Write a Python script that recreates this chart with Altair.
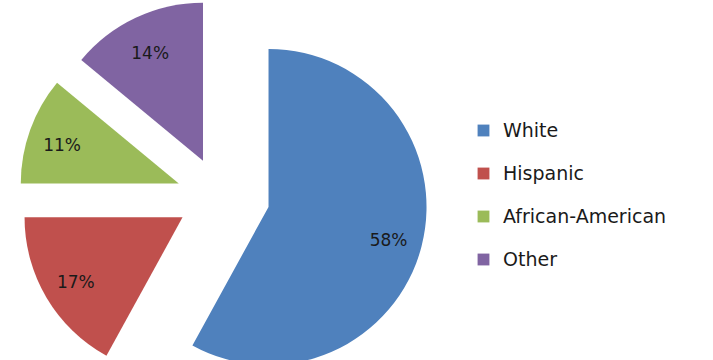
import altair as alt
import pandas as pd

categories = ["White", "Hispanic", "African-American", "Other"]
values = [58, 17, 11, 14]
labels = ["58%", "17%", "11%", "14%"]
colors = ["#4F81BD", "#C0504D", "#9BBB59", "#8064A2"]

# layout constants (pixels)
CX, CY = 223, 197
EXPLODE_X, EXPLODE_Y = 47, 40
R = 158
LABEL_RX, LABEL_RY = 124, 122

df = pd.DataFrame({"category": categories, "value": values,
                   "label": labels, "order": list(range(len(categories)))})

base = alt.Chart(df).transform_window(
    cum="sum(value)", sort=[alt.SortField("order")], frame=[None, 0]
).transform_joinaggregate(
    total="sum(value)"
).transform_calculate(
    t1="2*PI*datum.cum/datum.total",
    t0="2*PI*(datum.cum-datum.value)/datum.total",
).transform_calculate(
    tm="(datum.t0+datum.t1)/2"
).transform_calculate(
    px=f"{CX}+{EXPLODE_X}*sin(datum.tm)",
    py=f"{CY}-{EXPLODE_Y}*cos(datum.tm)",
).transform_calculate(
    lx=f"datum.px+{LABEL_RX}*sin(datum.tm)",
    ly=f"datum.py-{LABEL_RY}*cos(datum.tm)",
)

arcs = base.mark_arc(radius=R).encode(
    x=alt.X("px:Q", scale=None),
    y=alt.Y("py:Q", scale=None),
    theta=alt.Theta("t0:Q", scale=None, stack=False),
    theta2="t1:Q",
    color=alt.Color(
        "category:N",
        scale=alt.Scale(domain=categories, range=colors),
        legend=alt.Legend(
            title=None, orient="none", legendX=474, legendY=121,
            symbolType="square", symbolSize=140, symbolStrokeWidth=0,
            labelFontSize=19, labelFont="DejaVu Sans", labelColor="#1a1a1a",
            rowPadding=23, labelOffset=10, labelLimit=300,
        ),
    ),
)

text = base.mark_text(fontSize=17, font="DejaVu Sans", color="#1a1a1a", dy=4).encode(
    x=alt.X("lx:Q", scale=None),
    y=alt.Y("ly:Q", scale=None),
    text="label:N",
)

chart = alt.layer(arcs, text).properties(
    width=713, height=360, padding=0, autosize=alt.AutoSizeParams(type="none")
).configure_view(stroke=None)

chart.save("out.html", embed_options={"renderer": "svg", "actions": False})
